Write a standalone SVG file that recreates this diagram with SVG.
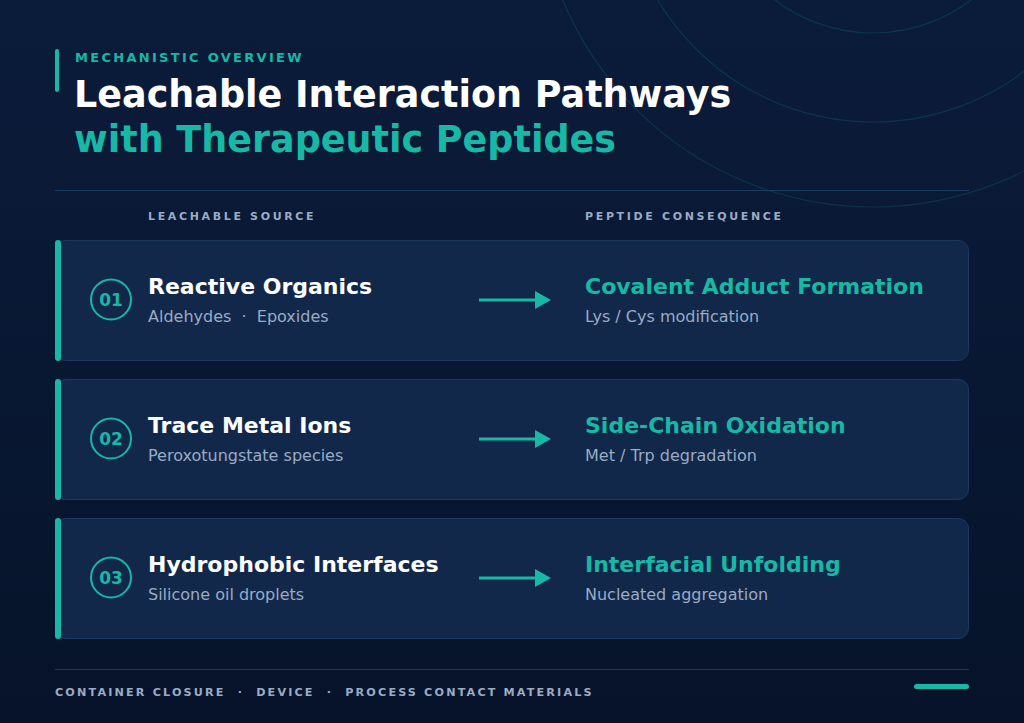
<svg xmlns="http://www.w3.org/2000/svg" width="1024" height="723" viewBox="0 0 1024 723">
  <defs>
    <linearGradient id="bg" x1="0" y1="0" x2="0" y2="1">
      <stop offset="0" stop-color="#0b1c3b"/>
      <stop offset="1" stop-color="#06132a"/>
    </linearGradient>
    <marker id="arrow" viewBox="0 0 16 18" refX="0" refY="9" markerWidth="16" markerHeight="18" markerUnits="userSpaceOnUse" orient="auto">
      <path d="M0,0 L16,9 L0,18 Z" fill="#17b8a6"/>
    </marker>
    <style>
      .f { font-family: "DejaVu Sans", "Liberation Sans", sans-serif; }
      .eyebrow { font-size: 13px; font-weight: bold; letter-spacing: 2.3px; fill: #17b8a6; }
      .title { font-size: 36.5px; font-weight: bold; }
      .colhead { font-size: 11px; font-weight: bold; letter-spacing: 2.65px; fill: #9aabc4; }
      .card { fill: #12284b; stroke: #1b3961; stroke-width: 1; }
      .accent { fill: #17b8a6; }
      .num-ring { fill: none; stroke: #17b8a6; stroke-width: 2; }
      .num { font-size: 17px; font-weight: bold; fill: #17b8a6; }
      .ctitle { font-size: 22px; font-weight: bold; fill: #ffffff; }
      .rtitle { font-size: 22px; font-weight: bold; fill: #17b8a6; }
      .sub { font-size: 16px; fill: #9aabc4; }
      .rule { stroke: #1b3a60; stroke-width: 1.2; }
      .ring { fill: none; stroke: #17b8a6; stroke-opacity: 0.16; stroke-width: 1.2; }
      .conn { stroke: #17b8a6; stroke-width: 3; fill: none; }
      .foot { font-size: 11.2px; font-weight: bold; letter-spacing: 2.15px; fill: #9aabc4; }
    </style>
  </defs>

  <rect x="0" y="0" width="1024" height="723" fill="url(#bg)"/>

  <g id="decor">
    <circle class="ring" cx="873" cy="-129" r="162"/>
    <circle class="ring" cx="873" cy="-129" r="251"/>
    <circle class="ring" cx="873" cy="-129" r="336"/>
  </g>

  <g id="header" class="f">
    <rect x="55" y="49" width="4" height="43" rx="2" class="accent"/>
    <text x="75" y="62" class="eyebrow">MECHANISTIC OVERVIEW</text>
    <text x="74" y="107" class="title" fill="#ffffff">Leachable Interaction Pathways</text>
    <text x="74" y="152" class="title" fill="#17b8a6">with Therapeutic Peptides</text>
    <line x1="55" y1="190.5" x2="969" y2="190.5" class="rule"/>
    <text x="148" y="220" class="colhead">LEACHABLE SOURCE</text>
    <text x="585" y="220" class="colhead">PEPTIDE CONSEQUENCE</text>
  </g>

  <g id="card-1" class="f">
    <rect x="55.5" y="240.5" width="913" height="120" rx="10" class="card"/>
    <rect x="55" y="240" width="6" height="121" rx="3" class="accent"/>
    <circle cx="111" cy="299.5" r="20" class="num-ring"/>
    <text x="111" y="305.5" text-anchor="middle" class="num">01</text>
    <text x="148" y="294" class="ctitle">Reactive Organics</text>
    <text x="148" y="322" class="sub" xml:space="preserve">Aldehydes  ·  Epoxides</text>
    <text x="585" y="294" class="rtitle">Covalent Adduct Formation</text>
    <text x="585" y="322" class="sub">Lys / Cys modification</text>
  </g>

  <g id="card-2" class="f">
    <rect x="55.5" y="379.5" width="913" height="120" rx="10" class="card"/>
    <rect x="55" y="379" width="6" height="121" rx="3" class="accent"/>
    <circle cx="111" cy="438.5" r="20" class="num-ring"/>
    <text x="111" y="444.5" text-anchor="middle" class="num">02</text>
    <text x="148" y="433" class="ctitle">Trace Metal Ions</text>
    <text x="148" y="461" class="sub">Peroxotungstate species</text>
    <text x="585" y="433" class="rtitle">Side-Chain Oxidation</text>
    <text x="585" y="461" class="sub">Met / Trp degradation</text>
  </g>

  <g id="card-3" class="f">
    <rect x="55.5" y="518.5" width="913" height="120" rx="10" class="card"/>
    <rect x="55" y="518" width="6" height="121" rx="3" class="accent"/>
    <circle cx="111" cy="577.5" r="20" class="num-ring"/>
    <text x="111" y="583.5" text-anchor="middle" class="num">03</text>
    <text x="148" y="572" class="ctitle">Hydrophobic Interfaces</text>
    <text x="148" y="600" class="sub">Silicone oil droplets</text>
    <text x="585" y="572" class="rtitle">Interfacial Unfolding</text>
    <text x="585" y="600" class="sub">Nucleated aggregation</text>
  </g>

  <g id="connectors">
    <line x1="479" y1="300" x2="535" y2="300" class="conn" marker-end="url(#arrow)"/>
    <line x1="479" y1="439" x2="535" y2="439" class="conn" marker-end="url(#arrow)"/>
    <line x1="479" y1="578" x2="535" y2="578" class="conn" marker-end="url(#arrow)"/>
  </g>

  <g id="footer" class="f">
    <line x1="55" y1="669.5" x2="969" y2="669.5" class="rule"/>
    <text x="55" y="696" class="foot" xml:space="preserve">CONTAINER CLOSURE  ·  DEVICE  ·  PROCESS CONTACT MATERIALS</text>
    <rect x="914" y="684" width="55" height="5" rx="2.5" class="accent"/>
  </g>
</svg>
